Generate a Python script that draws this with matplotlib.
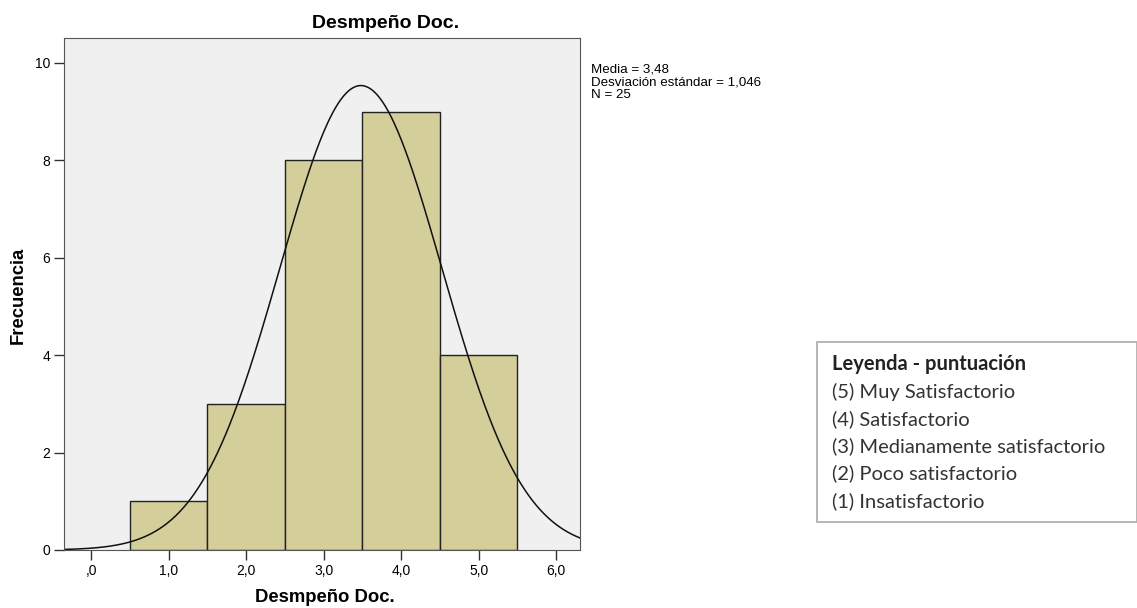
import numpy as np
import matplotlib
matplotlib.use("Agg")
import matplotlib.pyplot as plt
from matplotlib.patches import Rectangle

plt.rcParams['font.family'] = ['Liberation Sans', 'DejaVu Sans']

# histogram data
scores = [1, 2, 3, 4, 5]
counts = [1, 3, 8, 9, 4]
media = 3.48
desv = 1.046
n = 25
xticks = [0, 1, 2, 3, 4, 5, 6]
xtick_labels = [",0", "1,0", "2,0", "3,0", "4,0", "5,0", "6,0"]
yticks = [0, 2, 4, 6, 8, 10]
leyenda = ["(5) Muy Satisfactorio", "(4) Satisfactorio",
           "(3) Medianamente satisfactorio", "(2) Poco satisfactorio",
           "(1) Insatisfactorio"]

fig = plt.figure(figsize=(11.37, 6.08), dpi=100)
ax = fig.add_axes([0.0563, 0.0954, 0.454, 0.842])
ax.set_facecolor('#f0f0f0')

ax.bar(scores, counts, width=1.0, color='#d3ce9a', edgecolor='#222222', linewidth=1.0)

# normal curve scaled to the counts (bin width 1)
xmin, xmax = -0.35, 6.31
xs = np.linspace(xmin, xmax, 400)
ys = n * np.exp(-0.5 * ((xs - media) / desv) ** 2) / (desv * np.sqrt(2 * np.pi))
ax.plot(xs, ys, color='#111111', linewidth=1.1)

ax.set_xlim(xmin, xmax)
ax.set_ylim(0, 10.51)
ax.set_xticks(xticks)
ax.set_xticklabels(xtick_labels, fontsize=10)
ax.set_yticks(yticks)
ax.set_yticklabels([str(v) for v in yticks], fontsize=10)
ax.tick_params(direction='out', length=7, width=1, color='#333333', pad=3)
for s in ax.spines.values():
    s.set_color('#555555')

fig.text(325 / 1137, 1 - 597 / 608, "Desmpeño Doc.", fontsize=13.3,
         fontweight='bold', ha='center', va='center')
fig.text(18 / 1137, 1 - 295 / 608, "Frecuencia", fontsize=13.3,
         fontweight='bold', ha='center', va='center', rotation=90)
fig.text(386 / 1137, 1 - 24 / 608, "Desmpeño Doc.", fontsize=14,
         fontweight='bold', ha='center', va='center')

fig.text(591 / 1137, 1 - 63 / 608,
         f"Media = {media:.2f}".replace('.', ',') + "\n"
         + f"Desviación estándar = {desv:.3f}".replace('.', ',') + "\n"
         + f"N = {n}",
         fontsize=9.6, ha='left', va='top', linespacing=1.12)

# legend box on the right
box = Rectangle((817 / 1137, 1 - 522 / 608), 320 / 1137, 180 / 608,
                transform=fig.transFigure, facecolor='white',
                edgecolor='#aaaaaa', linewidth=1.2)
fig.add_artist(box)
fig.text(832 / 1137, 1 - 364 / 608, "Leyenda - puntuación", fontsize=14.5,
         fontweight='bold', family=['Lato', 'DejaVu Sans'],
         ha='left', va='center', color='#222222')
for i, t in enumerate(leyenda):
    fig.text(832 / 1137, 1 - (392 + 27.2 * i) / 608, t, fontsize=14.5,
             family=['Lato', 'DejaVu Sans'], ha='left', va='center',
             color='#333333')

fig.savefig("out.png", dpi=100)
